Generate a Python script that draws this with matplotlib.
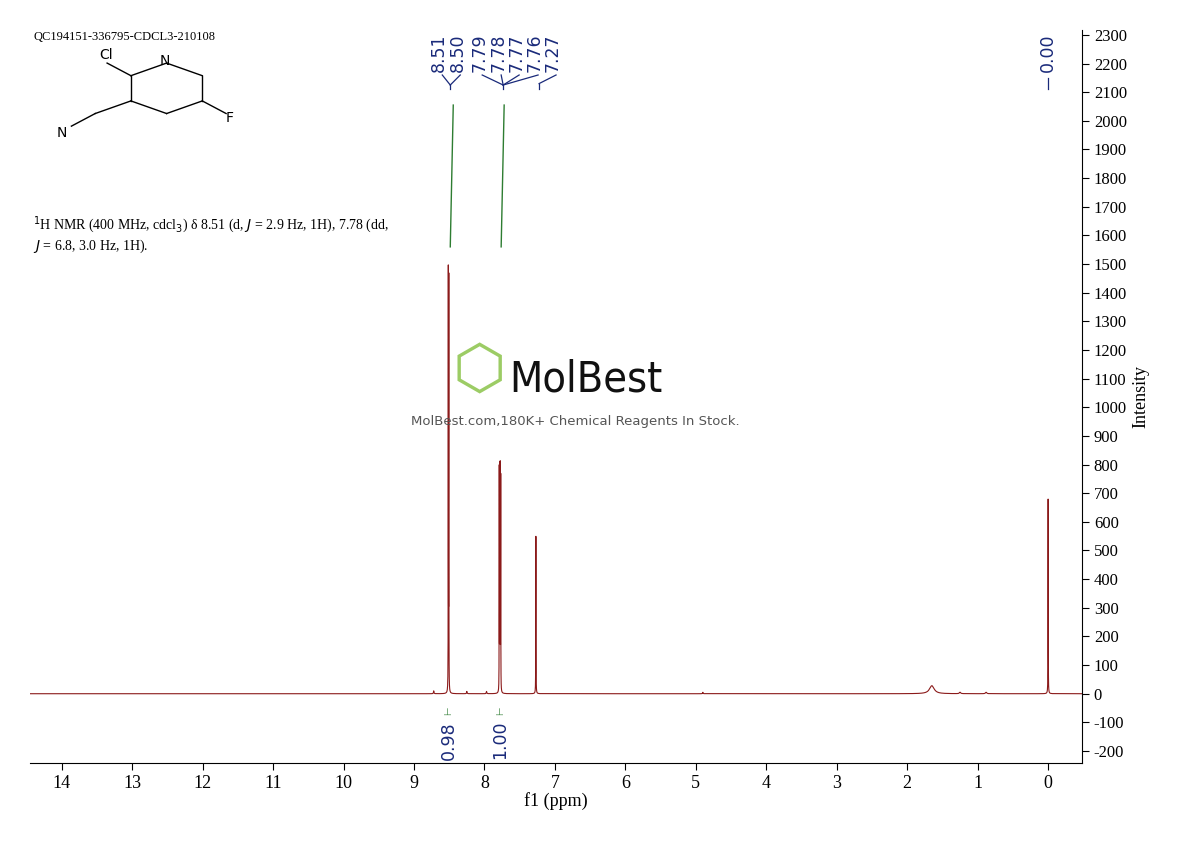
import numpy as np
import matplotlib
matplotlib.use("Agg")
import matplotlib.pyplot as plt

peak_ppm = [8.513, 8.506, 7.790, 7.783, 7.776, 7.769, 7.27, 0.00, 1.65, 8.72, 8.25, 7.97, 4.90, 1.25, 0.88]
peak_h   = [1460, 1430, 770, 760, 765, 740, 550, 680, 28, 10, 8, 8, 5, 5, 5]
peak_w   = [0.0012, 0.0012, 0.0012, 0.0012, 0.0012, 0.0012, 0.0015, 0.0015, 0.04, 0.004, 0.004, 0.004, 0.004, 0.01, 0.01]
shift_labels = ["8.51", "8.50", "7.79", "7.78", "7.77", "7.76", "7.27"]
integ_pos = [8.51, 7.78]
integ_vals = ["0.98", "1.00"]
xticks = list(range(0, 15))
yticks = list(range(-200, 2301, 100))

x = np.linspace(-0.5, 14.45, 120000)
y = np.zeros_like(x)
for p, h, w in zip(peak_ppm, peak_h, peak_w):
    y += h / (1 + ((x - p) / w) ** 2)

fig = plt.figure(figsize=(11.9, 8.41), dpi=100)
ax = fig.add_axes([0.0252, 0.0927, 0.8840, 0.8716])
ax.plot(x, y, color="#8b1a1a", lw=0.8)
ax.set_xlim(14.45, -0.48)
ax.set_ylim(-242, 2317)
for s in ["top", "left"]:
    ax.spines[s].set_visible(False)
ax.yaxis.tick_right()
ax.yaxis.set_label_position("right")
ax.set_xticks(xticks)
ax.set_yticks(yticks)
ax.set_xticklabels([str(t) for t in xticks], family="Liberation Serif", fontsize=13)
ax.set_yticklabels([str(t) for t in yticks], family="Liberation Serif", fontsize=12)
ax.set_xlabel("f1 (ppm)", family="Liberation Serif", fontsize=13, labelpad=0)
ax.set_ylabel("Intensity", family="Liberation Serif", fontsize=13)
ax.tick_params(direction="out", length=5)

px = 70.6
def xs(pix):  # pixel to ppm
    return 14.42 - (pix - 30) / px
navy = "#1a2a7a"
lab_pix = [438, 457, 478, 497, 515, 534, 552]
for t, lp in zip(shift_labels, lab_pix):
    ax.text(xs(lp), 2305, t, rotation=90, ha="center", va="top", color=navy, fontsize=12.5)
def seg(x1, y1, x2, y2, c=navy):
    ax.plot([xs(x1), xs(x2)], [y1, y2], color=c, lw=0.9, clip_on=False)
seg(441, 2160, 449, 2125); seg(459, 2160, 449, 2125); seg(449, 2125, 449, 2110)
for lp in [478, 497, 515, 534]:
    seg(lp + 3, 2160, 502, 2125)
seg(502, 2125, 502, 2110)
seg(555, 2160, 538, 2130); seg(538, 2130, 538, 2110)
ax.text(xs(1048), 2305, "0.00", rotation=90, ha="center", va="top", color=navy, fontsize=12.5)
seg(1048, 2150, 1048, 2110)
green = "#2e7d32"
ax.plot([xs(449), xs(452)], [1560, 2055], color=green, lw=1)
ax.plot([xs(500), xs(503)], [1560, 2055], color=green, lw=1)
for ip, iv in zip(integ_pos, integ_vals):
    ax.text(ip, -60, "⊢", rotation=90, ha="center", va="center", color=green, fontsize=7)
    ax.text(ip, -95, iv, rotation=90, ha="center", va="top", color=navy, fontsize=12.5)

# watermark
fig.text(0.428, 0.535, "MolBest", fontsize=31, color="#111111", family="DejaVu Sans",
         fontstretch="condensed")
fig.text(0.403, 0.558, "⬡", fontsize=44, color="#8bc34a", alpha=0.85, ha="center", va="center")
fig.text(0.345, 0.495, "MolBest.com,180K+ Chemical Reagents In Stock.", fontsize=9.5, color="#555555")

fig.text(0.028, 0.953, "QC194151-336795-CDCL3-210108", family="Liberation Serif", fontsize=9)
fig.text(0.028, 0.745, "$^{1}$H NMR (400 MHz, cdcl$_3$) δ 8.51 (d, $J$ = 2.9 Hz, 1H), 7.78 (dd,\n$J$ = 6.8, 3.0 Hz, 1H).",
         family="Liberation Serif", fontsize=10, ha="left", va="top")

sax = fig.add_axes([0.03, 0.8, 0.17, 0.14]); sax.axis("off")
sax.set_xlim(0, 17); sax.set_ylim(0, 14)
pts = {"C7": (8, 11), "N6": (11, 12.5), "C5": (14, 11), "C4": (14, 8), "C3": (11, 6.5), "C2": (8, 8)}
ring = ["C7", "N6", "C5", "C4", "C3", "C2", "C7"]
for a, b in zip(ring[:-1], ring[1:]):
    sax.plot([pts[a][0], pts[b][0]], [pts[a][1], pts[b][1]], color="k", lw=1)
sax.plot([8, 6], [11, 12.5], color="k", lw=1)
sax.plot([8, 5], [8, 6.5], color="k", lw=1)
sax.plot([5, 3], [6.5, 5], color="k", lw=1)
sax.plot([14, 16], [8, 6.5], color="k", lw=1)
sax.text(5.3, 13, "Cl", fontsize=10); sax.text(10.4, 12.3, "N", fontsize=10)
sax.text(1.8, 3.7, "N", fontsize=10); sax.text(16, 5.5, "F", fontsize=10)

fig.savefig("out.png", dpi=100)
